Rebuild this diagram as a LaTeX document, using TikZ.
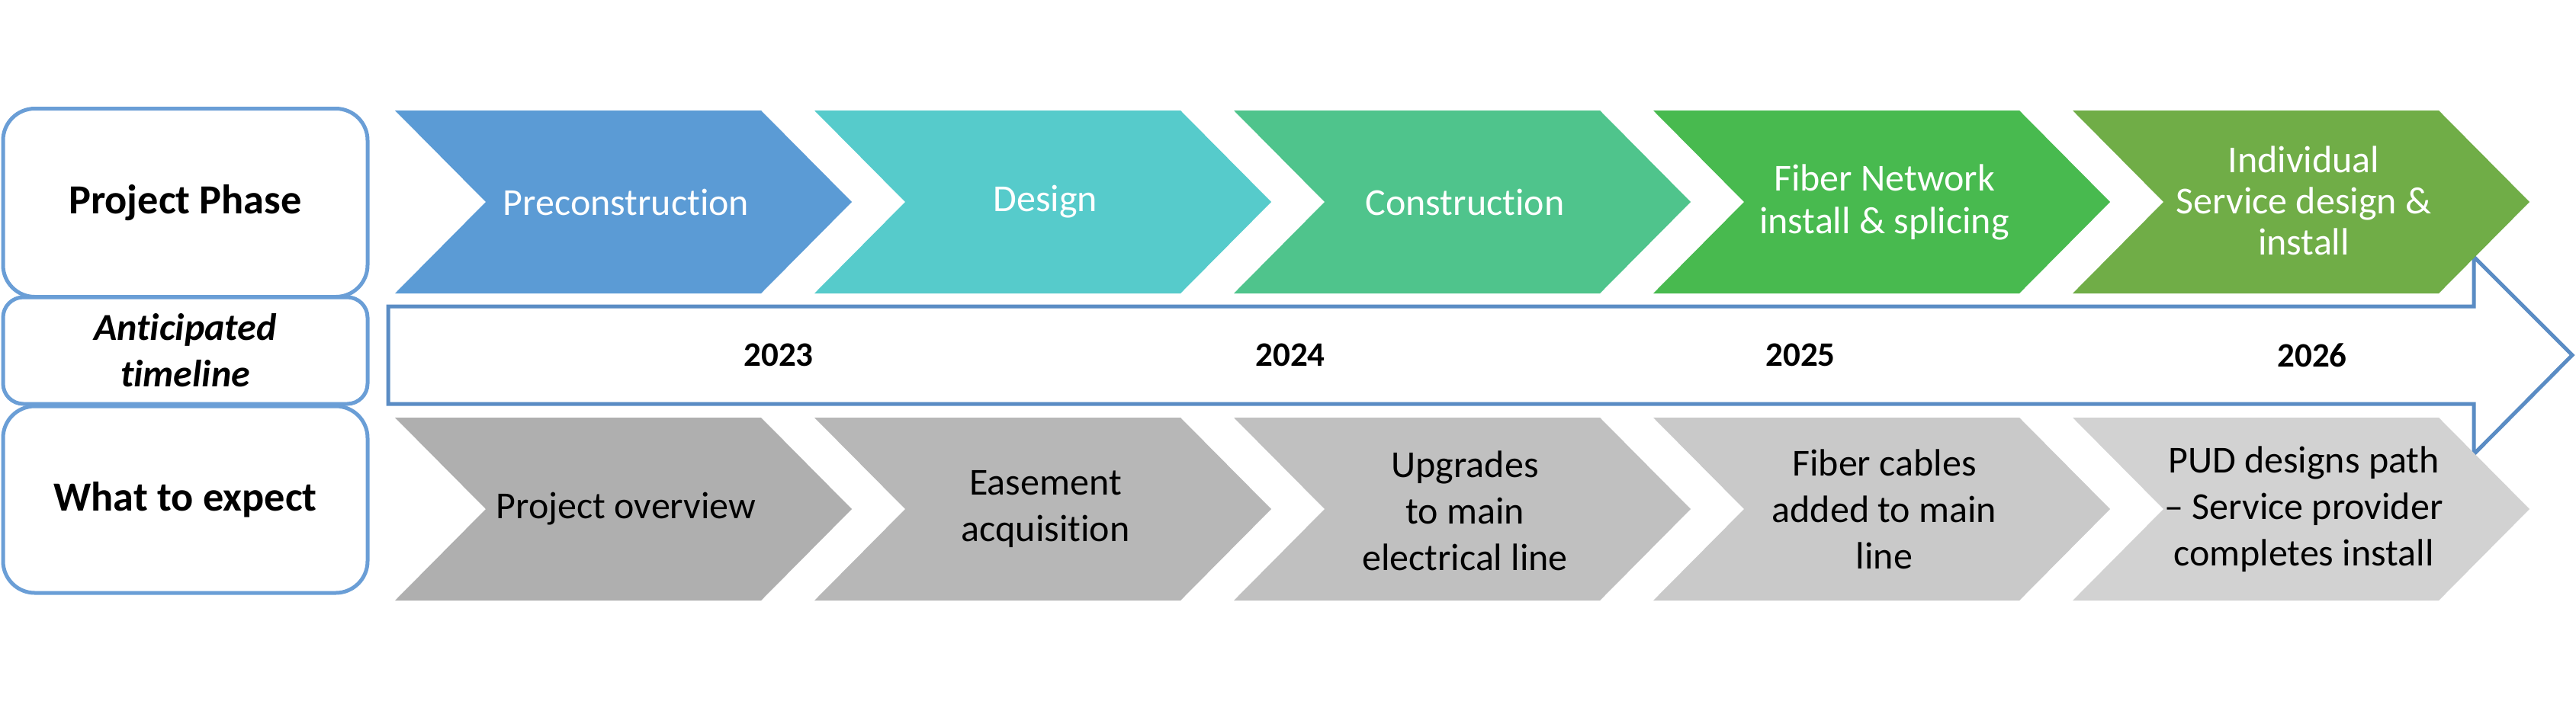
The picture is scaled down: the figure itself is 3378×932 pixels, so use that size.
\documentclass[tikz,border=0pt]{standalone}
\usepackage{fontspec}
\setmainfont{Carlito}[Ligatures={NoCommon}]
\definecolor{boxblue}{HTML}{6A9ED6}
\definecolor{arrowblue}{HTML}{5A8CC4}
\definecolor{ph1}{HTML}{5B9BD5}
\definecolor{ph2}{HTML}{56CBCB}
\definecolor{ph3}{HTML}{4FC48C}
\definecolor{ph4}{HTML}{48BA4F}
\definecolor{ph5}{HTML}{70AD47}
\definecolor{ex1}{HTML}{AFAFAF}
\definecolor{ex2}{HTML}{B7B7B7}
\definecolor{ex3}{HTML}{C0C0C0}
\definecolor{ex4}{HTML}{C9C9C9}
\definecolor{ex5}{HTML}{D2D2D2}
\begin{document}
\begin{tikzpicture}[x=0.3pt,y=-0.3pt,
  labelbox/.style={draw=boxblue, line width=1.5pt, fill=white, minimum width=143.4pt, inner sep=0pt, align=center, text=black},
  phasetext/.style={text=white, align=center, inner sep=0pt, font=\fontsize{15pt}{16.8pt}\selectfont},
  expecttext/.style={text=black, align=center, inner sep=0pt, font=\fontsize{15pt}{18.3pt}\selectfont},
  yeartext/.style={text=black, inner sep=0pt, font=\fontsize{13.5pt}{16pt}\selectfont\bfseries},
  timearrow/.style={draw=arrowblue, line width=1.5pt, fill=white, line join=miter}
]
\useasboundingbox (0,0) rectangle (3378,932);

% left label boxes
\node[labelbox, minimum height=74.1pt, rounded corners=12.5pt, font=\fontsize{16.3pt}{19pt}\selectfont\bfseries] (lab1) at (243,266) {Project Phase};
\node[labelbox, minimum height=42pt, rounded corners=8pt, font=\fontsize{15pt}{18.3pt}\selectfont\bfseries\itshape] (lab2) at (243,460) {Anticipated\\timeline};
\node[labelbox, minimum height=73.5pt, rounded corners=12.5pt, font=\fontsize{16.3pt}{19pt}\selectfont\bfseries] (lab3) at (243,655.5) {What to expect};

% timeline arrow
\coordinate (arrowtail) at (509,466);
\coordinate (arrowtip) at (3373,466);
\draw[timearrow] (509,402) -- (3244,402) -- (3244,337) -- (arrowtip) -- (3244,596) -- (3244,530) -- (509,530) -- cycle;

% chevrons
\foreach \L/\c/\n in {518/ph1/p1,1068/ph2/p2,1618/ph3/p3,2168/ph4/p4,2718/ph5/p5}{
  \fill[\c] (\L,145) -- ({\L+480},145) -- ({\L+599},265) -- ({\L+480},385) -- (\L,385) -- ({\L+119},265) -- cycle;
}
\foreach \L/\c/\n in {518/ex1/e1,1068/ex2/e2,1618/ex3/e3,2168/ex4/e4,2718/ex5/e5}{
  \fill[\c] (\L,548) -- ({\L+480},548) -- ({\L+599},668) -- ({\L+480},788) -- (\L,788) -- ({\L+119},668) -- cycle;
}

% phase texts
\node[phasetext] (p1) at (821,265) {Preconstruction};
\node[phasetext] (p2) at (1371,265) {Design};
\node[phasetext] (p3) at (1921,265) {Construction};
\node[phasetext] (p4) at (2471,265) {Fiber Network\\install \& splicing};
\node[phasetext, font=\fontsize{15pt}{16.2pt}\selectfont] (p5) at (3021,263) {Individual\\Service design \&\\install};

% years
\node[yeartext] (y1) at (1021,466) {2023};
\node[yeartext] (y2) at (1692,466) {2024};
\node[yeartext] (y3) at (2361,466) {2025};
\node[yeartext] (y4) at (3032,466) {2026};

% expectation texts
\node[expecttext] (e1) at (821,668) {Project overview};
\node[expecttext] (e2) at (1371,668) {Easement\\acquisition};
\node[expecttext] (e3) at (1921,670) {Upgrades\\to main\\electrical line};
\node[expecttext] (e4) at (2471,668) {Fiber cables\\added to main\\line};
\node[expecttext] (e5) at (3021,668) {PUD designs path\\– Service provider\\completes install};
\end{tikzpicture}
\end{document}
